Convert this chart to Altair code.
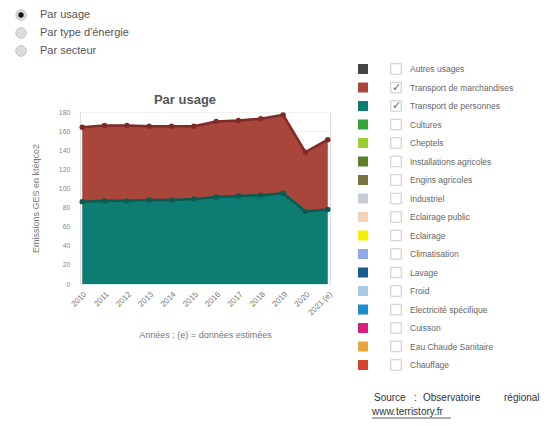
import altair as alt
import pandas as pd

years = ["2010", "2011", "2012", "2013", "2014", "2015", "2016", "2017", "2018", "2019", "2020", "2021 (e)"]
personnes = [86, 87, 87, 88, 88, 89, 91, 92, 93, 95, 76, 78]
marchandises = [78, 79, 79, 77, 77, 76, 79, 79, 80, 82, 62, 73]
y_ticks = [0, 20, 40, 60, 80, 100, 120, 140, 160, 180]

legend_labels = ["Autres usages", "Transport de marchandises", "Transport de personnes", "Cultures",
                 "Cheptels", "Installations agricoles", "Engins agricoles", "Industriel",
                 "Eclairage public", "Eclairage", "Climatisation", "Lavage", "Froid",
                 "Electricité spécifique", "Cuisson", "Eau Chaude Sanitaire", "Chauffage"]
legend_colors = ["#444444", "#a8463b", "#0d7d73", "#35a53a", "#9ccc34", "#5d7f2c", "#7b7242",
                 "#c9cdd6", "#f5d3b4", "#f4f000", "#8dabe8", "#195c8e", "#a8cae6", "#1f8bc9",
                 "#d61e7c", "#e6a83c", "#d6432f"]
legend_checked = [False, True, True] + [False] * 14

radio_labels = ["Par usage", "Par type d'énergie", "Par secteur"]
radio_selected = [True, False, False]

source_words = ["Source", ":", "Observatoire", "régional"]
source_x = [294, 334, 343, 424]

FONT = "Liberation Sans"

rows = []
for i, y in enumerate(years):
    rows.append({"year": y, "usage": "Transport de personnes", "value": personnes[i], "ord": 0})
    rows.append({"year": y, "usage": "Transport de marchandises", "value": marchandises[i], "ord": 1})
df = pd.DataFrame(rows)

area_colors = {"Transport de personnes": "#0d7d73", "Transport de marchandises": "#a8463b"}
line_colors = ["#0b5a50", "#7e2a26"]

base = alt.Chart(df).transform_stack(
    stack="value", groupby=["year"], as_=["v0", "v1"], sort=[alt.SortField("ord", order="ascending")]
)

x_enc = alt.X("year:N", sort=years, scale=alt.Scale(type="point", padding=0.1),
              axis=alt.Axis(title="Années ; (e) = données estimées", labelAngle=315, labelFontSize=8,
                            labelColor="#777", titleFontSize=9, titleColor="#777", titleFontWeight="normal",
                            titlePadding=14, domain=True, domainColor="#d8eef0", ticks=False,
                            labelPadding=6, grid=False, labelFont=FONT, titleFont=FONT, labelOverlap=False))
y_enc = alt.Y("v1:Q", scale=alt.Scale(domain=[0, 180], nice=False),
              axis=alt.Axis(title="Emissions GES en ktéqco2", values=y_ticks, tickCount=10,
                            labelFontSize=7, labelColor="#888", titleFontSize=9, titleColor="#777",
                            titleFontWeight="normal", titlePadding=18, domain=False, ticks=False,
                            labelPadding=10, gridColor="#f0f0f0", labelFont=FONT, titleFont=FONT,
                            labelOverlap=False))

area = base.mark_area(opacity=1).encode(
    x=x_enc,
    y=y_enc,
    y2="v0:Q",
    color=alt.Color("usage:N", scale=alt.Scale(domain=list(area_colors.keys()), range=list(area_colors.values())), legend=None),
    detail="usage:N",
)
line = base.mark_line(strokeWidth=2.5).encode(
    x=x_enc,
    y=y_enc,
    stroke=alt.Stroke("ord:N", scale=alt.Scale(domain=[0, 1], range=line_colors), legend=None),
)
pts = base.mark_circle(size=30, opacity=1).encode(
    x=x_enc,
    y=y_enc,
    fill=alt.Fill("ord:N", scale=alt.Scale(domain=[0, 1], range=line_colors), legend=None),
)

main = alt.layer(area, line, pts)

title = alt.Chart(pd.DataFrame({"t": ["Par usage"]})).mark_text(
    fontSize=13, fontWeight="bold", color="#555", align="center", baseline="middle", font=FONT).encode(
    x=alt.value(105), y=alt.value(-12), text="t:N")

# Legend panel
leg_df = pd.DataFrame({"item": legend_labels, "col": legend_colors,
                       "check": ["✓" if c else "" for c in legend_checked]})
leg_y = alt.Y("item:N", sort=legend_labels,
              scale=alt.Scale(type="point", domain=legend_labels, range=[-43, 253], padding=0), axis=None)
leg_sq = alt.Chart(leg_df).mark_square(size=100, opacity=1).encode(
    x=alt.value(283), y=leg_y,
    fill=alt.Fill("item:N", scale=alt.Scale(domain=legend_labels, range=legend_colors), legend=None),
)
leg_box = alt.Chart(leg_df).mark_square(size=110, fill="white", stroke="#c8c8c8", strokeWidth=1, opacity=1).encode(
    x=alt.value(316), y=leg_y)
leg_chk = alt.Chart(leg_df).mark_text(fontSize=11, color="#666", align="center", baseline="middle", font=FONT).encode(
    x=alt.value(316), y=leg_y, text="check:N")
leg_txt = alt.Chart(leg_df).mark_text(fontSize=8.5, color="#666", align="left", baseline="middle", font=FONT).encode(
    x=alt.value(330), y=leg_y, text="item:N")

# Radio buttons
rad_df = pd.DataFrame({"opt": radio_labels, "sel": radio_selected})
rad_y = alt.Y("opt:N", sort=radio_labels,
              scale=alt.Scale(type="point", domain=radio_labels, range=[-97, -61], padding=0), axis=None)
rad_c = alt.Chart(rad_df).mark_circle(size=110, fill="#dcdcdc", stroke="#c4c4c4", strokeWidth=1, opacity=1).encode(
    x=alt.value(-59), y=rad_y)
rad_dot = alt.Chart(rad_df).transform_filter("datum.sel").mark_circle(size=28, color="#111", opacity=1).encode(
    x=alt.value(-59), y=rad_y)
rad_t = alt.Chart(rad_df).mark_text(fontSize=11, color="#555", align="left", baseline="middle", font=FONT).encode(
    x=alt.value(-40), y=rad_y, text="opt:N")

# Source
src_df = pd.DataFrame({"w": source_words, "px": source_x})
src1 = alt.Chart(src_df).mark_text(
    fontSize=10, color="#333", align="left", baseline="middle", font=FONT).encode(
    x=alt.X("px:Q", scale=alt.Scale(domain=[0, 250], range=[0, 250]), axis=None),
    y=alt.value(286), text="w:N")
src2 = alt.Chart(pd.DataFrame({"t": ["www.terristory.fr"]})).mark_text(
    fontSize=10, color="#333", align="left", baseline="middle", font=FONT).encode(
    x=alt.value(292), y=alt.value(300), text="t:N")
src_ul = alt.Chart(pd.DataFrame({"t": [1]})).mark_rule(color="#333", strokeWidth=0.8).encode(
    x=alt.value(292), x2=alt.value(371), y=alt.value(306))

chart = alt.layer(
    main, title, leg_sq, leg_box, leg_chk, leg_txt, rad_c, rad_dot, rad_t, src1, src2, src_ul
).resolve_scale(
    x="independent", y="independent", color="independent", fill="independent", stroke="independent"
).resolve_axis(x="independent", y="independent").properties(
    width=250, height=172,
    autosize=alt.AutoSizeParams(type="none"),
    padding={"left": 80, "top": 112, "right": 229, "bottom": 142},
).configure_view(stroke=None).configure(background="white")

chart.save("out.html", embed_options={"renderer": "svg", "actions": False})
